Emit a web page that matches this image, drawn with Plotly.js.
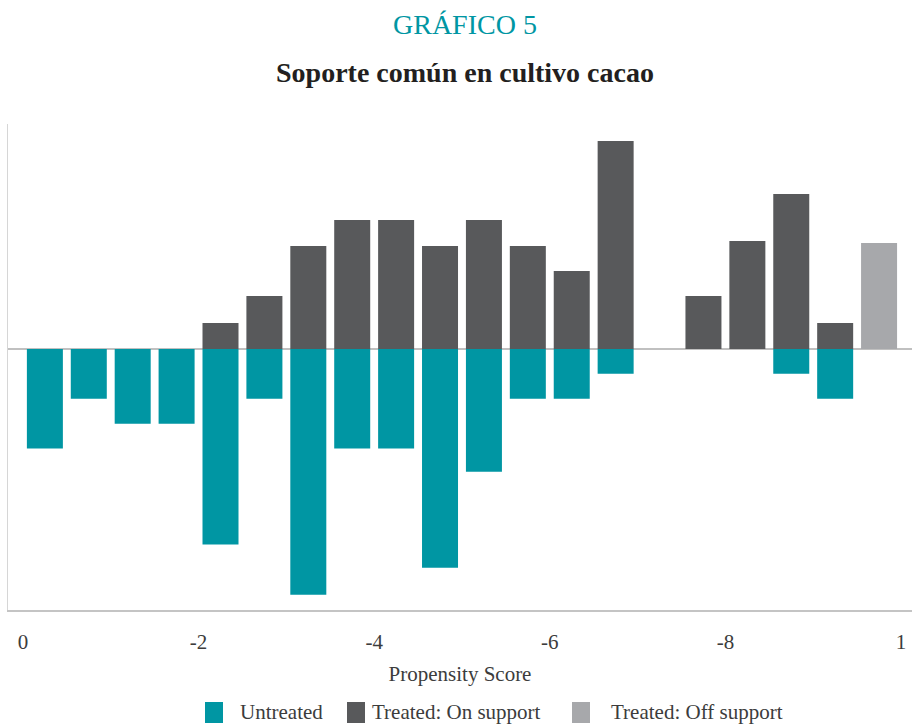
<!DOCTYPE html>
<html>
<head>
<meta charset="utf-8">
<script src="https://cdn.plot.ly/plotly-3.0.1.min.js"></script>
<style>html,body{margin:0;padding:0;background:#fff;}#chart{width:912px;height:725px;}</style>
</head>
<body>
<div id="chart"></div>
<script>
// Bin positions (slot centers) and tick labels
const binX = [0.5,1.5,2.5,3.5,4.5,5.5,6.5,7.5,8.5,9.5,10.5,11.5,12.5,13.5,14.5,15.5,16.5,17.5,18.5];
const offX = [19.5];
const untreatedX = [0.5,1.5,2.5,3.5,4.5,5.5,6.5,7.5,8.5,9.5,10.5,11.5,12.5,13.5,14.5,15.5,16.5,17.5,18.5,19.5];
const tickVals = [0,4,8,12,16,20];
const tickText = ["0","-2","-4","-6","-8","1"];

// Series values
const untreated = [-3.98,-1.99,-2.99,-2.99,-7.82,-1.99,-9.83,-3.98,-3.98,-8.75,-4.91,-1.99,-1.99,-0.99,0,0,0,-0.99,-1.99,0];
const treatedOn = [0,0,0,0,1.04,2.12,4.12,5.16,5.16,4.12,5.16,4.12,3.12,8.32,0,2.12,4.32,6.2,1.04];
const treatedOff = [4.24];

const seriesNames = ['Untreated','Treated: On support','Treated: Off support'];
const seriesColors = ['#0096a3','#58595b','#a7a8ab'];

const serif = "Liberation Serif";

const traces = [
  {type:'bar', name:seriesNames[0], x:untreatedX, y:untreated, width:0.82,
   marker:{color:seriesColors[0]}, hoverinfo:'skip'},
  {type:'bar', name:seriesNames[1], x:binX, y:treatedOn, width:0.82,
   marker:{color:seriesColors[1]}, hoverinfo:'skip'},
  {type:'bar', name:seriesNames[2], x:offX, y:treatedOff, width:0.82,
   marker:{color:seriesColors[2]}, hoverinfo:'skip'}
];

// legend drawn as swatches + labels below the axis (paper coordinates)
const W = 904, H = 486, L = 8, B = 610;
const px = v => (v - L) / W;
const py = v => (B - v) / H;
const swatchLeft = [205, 347, 572];
const labelLeft = [238, 370, 609];
const shapes = [], annotations = [];
for (let i = 0; i < 3; i++) {
  shapes.push({type:'rect', xref:'paper', yref:'paper',
    x0:px(swatchLeft[i]), x1:px(swatchLeft[i] + 18), y0:py(723), y1:py(702),
    fillcolor:seriesColors[i], line:{width:0}});
  annotations.push({text:seriesNames[i], xref:'paper', yref:'paper', x:px(labelLeft[i]), y:py(712),
    xanchor:'left', yanchor:'middle', showarrow:false, font:{family:serif, size:21, color:'#3c3c3c'}});
}
annotations.push({text:'GRÁFICO 5', xref:'paper', yref:'paper', x:0.506, y:py(25), xanchor:'center', yanchor:'middle',
  showarrow:false, font:{family:serif, size:28, color:'#0096a3'}});
annotations.push({text:'<b>Soporte común en cultivo cacao</b>', xref:'paper', yref:'paper', x:0.506, y:py(73),
  xanchor:'center', yanchor:'middle', showarrow:false, font:{family:serif, size:28, color:'#231f20'}});

const layout = {
  width:912, height:725,
  margin:{l:8, r:0, t:124, b:115, autoexpand:false},
  paper_bgcolor:'#ffffff', plot_bgcolor:'#ffffff',
  barmode:'overlay',
  showlegend:false,
  font:{family:serif, color:'#3c3c3c', size:20},
  xaxis:{
    range:[-0.34,20.25], tickvals:tickVals, ticktext:tickText,
    showline:true, linecolor:'#c4c4c4', linewidth:1.5,
    showgrid:false, zeroline:false, ticks:'', ticklabelstandoff:12,
    tickfont:{family:serif, size:21, color:'#3c3c3c'},
    title:{text:'Propensity Score', standoff:13, font:{family:serif, size:21, color:'#3c3c3c'}},
    fixedrange:true, automargin:false
  },
  yaxis:{
    range:[-10.44,9.0], showticklabels:false, ticks:'',
    showline:true, linecolor:'#d6d6d6', linewidth:1.5,
    showgrid:false, zeroline:true, zerolinecolor:'#c0c0c0', zerolinewidth:1.5,
    fixedrange:true, automargin:false
  },
  shapes:shapes,
  annotations:annotations
};

Plotly.newPlot('chart', traces, layout, {displayModeBar:false, staticPlot:true});
</script>
</body>
</html>
